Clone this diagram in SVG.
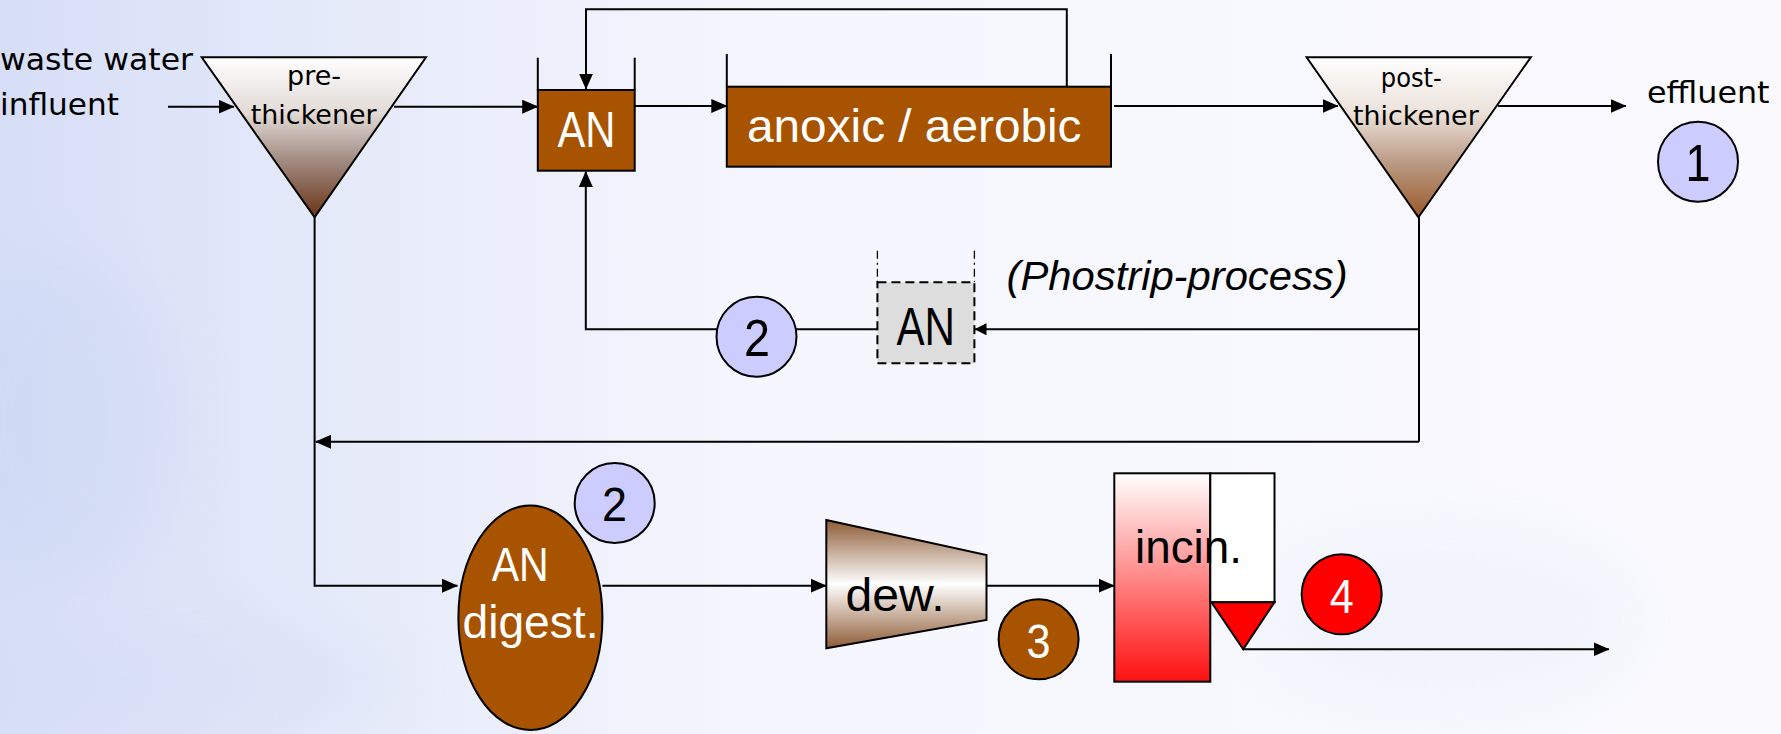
<svg xmlns="http://www.w3.org/2000/svg" width="1781" height="734" viewBox="0 0 1781 734">
  <defs>
    <linearGradient id="bg" x1="0" y1="0" x2="1" y2="0">
      <stop offset="0" stop-color="#D6DEF7"/>
      <stop offset="0.22" stop-color="#E8ECFA"/>
      <stop offset="0.45" stop-color="#F6F7FE"/>
      <stop offset="1" stop-color="#F9F9FE"/>
    </linearGradient>
    <filter id="blur" x="-50%" y="-50%" width="200%" height="200%">
      <feGaussianBlur stdDeviation="30"/>
    </filter>
    <linearGradient id="preG" x1="0" y1="0" x2="0" y2="1">
      <stop offset="0" stop-color="#FFFFFF"/>
      <stop offset="0.35" stop-color="#E2DAD6"/>
      <stop offset="0.65" stop-color="#A08A80"/>
      <stop offset="1" stop-color="#6A3416"/>
    </linearGradient>
    <linearGradient id="postG" x1="0" y1="0" x2="0" y2="1">
      <stop offset="0" stop-color="#FFFFFF"/>
      <stop offset="0.35" stop-color="#EBE1DA"/>
      <stop offset="0.65" stop-color="#BC9C86"/>
      <stop offset="1" stop-color="#985A2A"/>
    </linearGradient>
    <linearGradient id="dewG" x1="0" y1="0" x2="0" y2="1">
      <stop offset="0" stop-color="#8E5C36"/>
      <stop offset="0.5" stop-color="#FFFFFF"/>
      <stop offset="1" stop-color="#8E5C36"/>
    </linearGradient>
    <linearGradient id="incG" x1="0" y1="0" x2="0" y2="1">
      <stop offset="0" stop-color="#FFFFFF"/>
      <stop offset="1" stop-color="#FF1010"/>
    </linearGradient>
    <marker id="arr" markerWidth="16" markerHeight="14" refX="15.5" refY="7" orient="auto" markerUnits="userSpaceOnUse">
      <path d="M0,0 L16,7 L0,14 Z" fill="#000"/>
    </marker>
    <marker id="arrS" markerWidth="12" markerHeight="12" refX="11.5" refY="6" orient="auto" markerUnits="userSpaceOnUse">
      <path d="M0,0 L12,6 L0,12 Z" fill="#000"/>
    </marker>
    <style>
      .ln { fill: none; stroke: #000; stroke-width: 2; }
      .sh { stroke: #000; stroke-width: 2; }
      .brown { fill: #A85300; stroke: #000; stroke-width: 2; }
      .bub { fill: #CCCCFF; stroke: #000; stroke-width: 2; }
      .t { font-family: "Liberation Sans", Arial, sans-serif; fill: #000; }
      .s { font-family: "DejaVu Sans", Verdana, sans-serif; fill: #000; }
      .w { fill: #FFFFFF; }
      .mid { text-anchor: middle; }
    </style>
  </defs>

  <rect x="0" y="0" width="1781" height="734" fill="url(#bg)"/>
  <g filter="url(#blur)" opacity="0.35">
    <ellipse cx="60" cy="420" rx="120" ry="160" fill="#C8D3F2"/>
    <ellipse cx="200" cy="680" rx="200" ry="60" fill="#D2DBF5"/>
    <ellipse cx="1450" cy="620" rx="180" ry="80" fill="#E2EAF8"/>
  </g>

  <g id="connectors">
    <line class="ln" x1="168" y1="106.7" x2="234" y2="106.7" marker-end="url(#arr)"/>
    <line class="ln" x1="394" y1="106.7" x2="537.7" y2="106.7" marker-end="url(#arr)"/>
    <line class="ln" x1="634.7" y1="106" x2="726.8" y2="106" marker-end="url(#arr)"/>
    <line class="ln" x1="1114" y1="106" x2="1338" y2="106" marker-end="url(#arr)"/>
    <line class="ln" x1="1498" y1="106" x2="1626" y2="106" marker-end="url(#arr)"/>
    <polyline class="ln" points="1066.8,88 1066.8,9.3 586,9.3 586,89" marker-end="url(#arr)"/>
    <line class="ln" x1="1419" y1="217.3" x2="1419" y2="441.7"/>
    <line class="ln" x1="1419" y1="329.3" x2="975" y2="329.3" marker-end="url(#arrS)"/>
    <polyline class="ln" points="877.4,329.3 585.8,329.3 585.8,171.5" marker-end="url(#arr)"/>
    <line class="ln" x1="1419" y1="441.7" x2="315.6" y2="441.7" marker-end="url(#arr)"/>
    <polyline class="ln" points="314.6,217.3 314.6,585.7 457.5,585.7" marker-end="url(#arr)"/>
    <line class="ln" x1="602.4" y1="585.7" x2="826.3" y2="585.7" marker-end="url(#arr)"/>
    <line class="ln" x1="986.5" y1="585.7" x2="1114.3" y2="585.7" marker-end="url(#arr)"/>
    <line class="ln" x1="1243.2" y1="649.3" x2="1609" y2="649.3" marker-end="url(#arr)"/>
  </g>

  <g id="influent-label">
    <text class="s" x="0" y="70" font-size="31" textLength="193" lengthAdjust="spacingAndGlyphs">waste water</text>
    <text class="s" x="0" y="115" font-size="31" textLength="119" lengthAdjust="spacingAndGlyphs">influent</text>
  </g>

  <g id="pre-thickener">
    <polygon class="sh" points="201.7,57.3 426,57.3 314.6,217.3" fill="url(#preG)"/>
    <text class="s" x="287" y="85" font-size="27" textLength="54" lengthAdjust="spacingAndGlyphs">pre-</text>
    <text class="s" x="250.7" y="124" font-size="27" textLength="126" lengthAdjust="spacingAndGlyphs">thickener</text>
  </g>

  <g id="an-tank">
    <rect class="brown" x="537.8" y="90" width="96.9" height="80.7"/>
    <line class="ln" x1="537.8" y1="57.7" x2="537.8" y2="90"/>
    <line class="ln" x1="634.7" y1="57.7" x2="634.7" y2="90"/>
    <text class="t w" x="557.5" y="147.3" font-size="50" textLength="58" lengthAdjust="spacingAndGlyphs">AN</text>
  </g>

  <g id="anoxic-aerobic">
    <rect class="brown" x="726.8" y="86.7" width="384.2" height="80"/>
    <line class="ln" x1="726.8" y1="54" x2="726.8" y2="86.7"/>
    <line class="ln" x1="1111" y1="54" x2="1111" y2="86.7"/>
    <text class="t w" x="747" y="141.7" font-size="47" textLength="334.5" lengthAdjust="spacingAndGlyphs">anoxic / aerobic</text>
  </g>

  <g id="post-thickener">
    <polygon class="sh" points="1306.6,57.3 1530.8,57.3 1418.4,217.3" fill="url(#postG)"/>
    <text class="s" x="1380.8" y="87" font-size="27" textLength="61" lengthAdjust="spacingAndGlyphs">post-</text>
    <text class="s" x="1353" y="125" font-size="27" textLength="125.7" lengthAdjust="spacingAndGlyphs">thickener</text>
  </g>

  <g id="effluent">
    <text class="s" x="1647" y="103.3" font-size="31" textLength="122.6" lengthAdjust="spacingAndGlyphs">effluent</text>
  </g>

  <g id="marker-1">
    <circle class="bub" cx="1698" cy="161.7" r="40"/>
    <text class="t mid" x="1698" y="180.5" font-size="52" textLength="25" lengthAdjust="spacingAndGlyphs">1</text>
  </g>

  <g id="phostrip-an">
    <line x1="877.4" y1="250.7" x2="877.4" y2="282.3" stroke="#000" stroke-width="1.3" stroke-dasharray="8,4,2,4"/>
    <line x1="974.4" y1="250.7" x2="974.4" y2="282.3" stroke="#000" stroke-width="1.3" stroke-dasharray="8,4,2,4"/>
    <rect x="877.4" y="282.3" width="97" height="81" fill="#DDDDDD" stroke="#000" stroke-width="2" stroke-dasharray="9,5"/>
    <text class="t" x="896.5" y="345" font-size="54" textLength="58.5" lengthAdjust="spacingAndGlyphs">AN</text>
  </g>

  <g id="phostrip-label">
    <text class="t" x="1006.6" y="290" font-size="40" font-style="italic" textLength="341" lengthAdjust="spacingAndGlyphs">(Phostrip-process)</text>
  </g>

  <g id="marker-2a">
    <circle class="bub" cx="756.5" cy="336.7" r="40"/>
    <text class="t mid" x="757" y="355.5" font-size="51" textLength="26" lengthAdjust="spacingAndGlyphs">2</text>
  </g>

  <g id="an-digester">
    <ellipse class="brown" cx="530.4" cy="617.7" rx="72" ry="112.3"/>
    <text class="t w" x="491.7" y="581" font-size="48" textLength="57" lengthAdjust="spacingAndGlyphs">AN</text>
    <text class="t w" x="462.5" y="638.3" font-size="46" textLength="136" lengthAdjust="spacingAndGlyphs">digest.</text>
  </g>

  <g id="marker-2b">
    <circle class="bub" cx="614.7" cy="503" r="40"/>
    <text class="t mid" x="614.5" y="521" font-size="49" textLength="25" lengthAdjust="spacingAndGlyphs">2</text>
  </g>

  <g id="dewatering">
    <polygon class="sh" points="826.3,520 986.5,555 986.5,620 826.3,648.3" fill="url(#dewG)"/>
    <text class="t" x="845.5" y="611" font-size="47" textLength="99" lengthAdjust="spacingAndGlyphs">dew.</text>
  </g>

  <g id="marker-3">
    <circle class="brown" cx="1038.6" cy="639.3" r="40"/>
    <text class="t w mid" x="1038.6" y="658.3" font-size="48" textLength="24" lengthAdjust="spacingAndGlyphs">3</text>
  </g>

  <g id="incinerator">
    <rect class="sh" x="1114.3" y="473.3" width="96" height="208.4" fill="url(#incG)"/>
    <rect class="sh" x="1210.3" y="473.3" width="64.2" height="129" fill="#FFFFFF"/>
    <polygon class="sh" points="1211.4,602.3 1274.5,602.3 1243.2,649.3" fill="#FF0000"/>
    <text class="t" x="1135" y="562.7" font-size="47" textLength="107" lengthAdjust="spacingAndGlyphs">incin.</text>
  </g>

  <g id="marker-4">
    <circle cx="1341.7" cy="594.3" r="40" fill="#FF0000" stroke="#000" stroke-width="2"/>
    <text class="t w mid" x="1341.7" y="613.3" font-size="48" textLength="24" lengthAdjust="spacingAndGlyphs">4</text>
  </g>
</svg>
